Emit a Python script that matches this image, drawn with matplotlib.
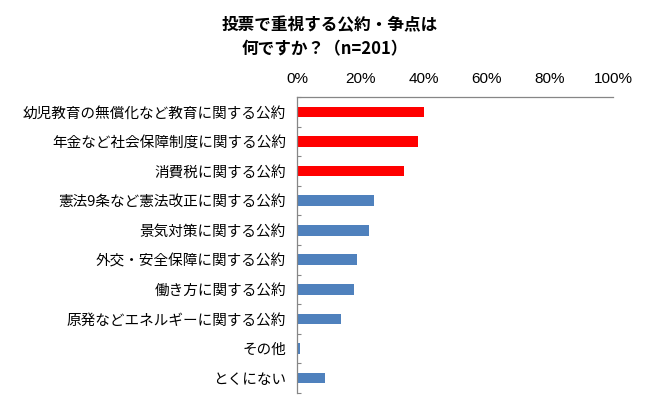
import numpy as np
import matplotlib
matplotlib.use('Agg')
import matplotlib.pyplot as plt

plt.rcParams['font.family'] = ['Noto Sans CJK JP', 'DejaVu Sans']

# 項目と割合（%）
labels = ['幼児教育の無償化など教育に関する公約', '年金など社会保障制度に関する公約', '消費税に関する公約',
          '憲法9条など憲法改正に関する公約', '景気対策に関する公約', '外交・安全保障に関する公約',
          '働き方に関する公約', '原発などエネルギーに関する公約', 'その他', 'とくにない']
values = [40.3, 38.3, 33.8, 24.4, 22.9, 18.9, 17.9, 13.9, 1.0, 9.0]
highlight = [True, True, True, False, False, False, False, False, False, False]
xticks = [0, 20, 40, 60, 80, 100]

red = '#FF0000'
blue = '#4F81BD'
gray = '#868686'

fig = plt.figure(figsize=(6.5, 4.05), dpi=100)
ax = fig.add_axes([0.457, 0.030, 0.486, 0.730])

y = np.arange(len(labels))
colors = [red if h else blue for h in highlight]
ax.barh(y, values, height=0.36, color=colors)

ax.set_xlim(0, 100)
ax.set_ylim(len(labels) - 0.5, -0.5)
ax.set_yticks(y)
ax.set_yticklabels(labels, fontsize=10.5)
ax.set_yticks(np.arange(len(labels) + 1) - 0.5, minor=True)
ax.tick_params(axis='y', which='major', length=0, pad=8)
ax.tick_params(axis='y', which='minor', length=3, direction='in', color=gray, width=0.8)

ax.xaxis.tick_top()
ax.set_xticks(xticks)
ax.set_xticklabels([f'{t}%' for t in xticks], fontsize=11, family=['Liberation Sans'])
ax.tick_params(axis='x', length=0, pad=8)

for s in ['right', 'bottom']:
    ax.spines[s].set_visible(False)
for s in ['left', 'top']:
    ax.spines[s].set_color(gray)
    ax.spines[s].set_linewidth(0.9)

fig.text(0.508, 1 - 25 / 405, '投票で重視する公約・争点は', ha='center', va='center',
         fontsize=12, fontweight='bold')
fig.text(0.500, 1 - 49 / 405, '何ですか？（n=201）', ha='center', va='center',
         fontsize=12, fontweight='bold')

fig.savefig('out.png', dpi=100)
